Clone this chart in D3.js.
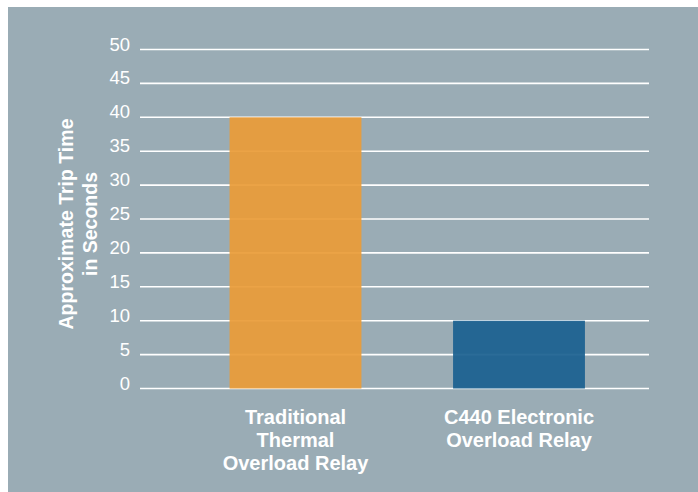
<!DOCTYPE html>
<html>
<head>
<meta charset="utf-8">
<script src="https://d3js.org/d3.v7.min.js"></script>
<style>
    body { margin: 0; background: #ffffff; }
    text { font-family: "Liberation Sans", Arial, sans-serif; fill: #ffffff; }
</style>
</head>
<body>
<script>
// relay trip time bar chart
var categories = ["Traditional Thermal Overload Relay",
                  "C440 Electronic Overload Relay"];
var labelLines = [["Traditional", "Thermal", "Overload Relay"],
                  ["C440 Electronic", "Overload Relay"]];
var tripSeconds = [40, 10];
var yTicks = [0, 5, 10, 15, 20, 25, 30, 35, 40, 45, 50];
var barColors = ["#e99c38", "#1b6190"];

var svg = d3.select("body")
    .append("svg")
    .attr("width", 698)
    .attr("height", 492);

// grey panel
svg.append("rect")
    .attr("x", 8)
    .attr("y", 7)
    .attr("width", 690)
    .attr("height", 485)
    .attr("fill", "#9aacb5");

var y = d3.scaleLinear()
    .domain([0, 50])
    .range([388.5, 49.5]);

var x = d3.scaleBand()
    .domain(categories)
    .range([183.75, 630.75])
    .paddingInner(0.41)
    .paddingOuter(0.205);

// gridlines first, bars are a little see-through on top
svg.selectAll(".grid")
    .data(yTicks)
    .enter()
    .append("line")
    .attr("x1", 140)
    .attr("x2", 649)
    .attr("y1", function(d) { return y(d); })
    .attr("y2", function(d) { return y(d); })
    .attr("stroke", "#ffffff")
    .attr("stroke-width", 1.6);

svg.selectAll(".bar")
    .data(tripSeconds)
    .enter()
    .append("rect")
    .attr("x", function(d, i) { return x(categories[i]); })
    .attr("y", function(d) { return y(d); })
    .attr("width", x.bandwidth())
    .attr("height", function(d) { return y(0) - y(d); })
    .attr("fill", function(d, i) { return barColors[i]; })
    .attr("fill-opacity", 0.93);

// tick labels
svg.selectAll(".tick")
    .data(yTicks)
    .enter()
    .append("text")
    .attr("x", 130)
    .attr("y", function(d) { return y(d) + 1; })
    .attr("text-anchor", "end")
    .style("font-size", "18.5px")
    .text(function(d) { return d; });

// axis title, two lines rotated
var title = svg.append("text")
    .attr("transform", "translate(73,224) rotate(-90)")
    .attr("text-anchor", "middle")
    .style("font-size", "19.5px")
    .style("font-weight", "bold");
title.append("tspan")
    .attr("x", 0)
    .attr("y", 0)
    .text("Approximate Trip Time");
title.append("tspan")
    .attr("x", 0)
    .attr("y", 23.5)
    .text("in Seconds");

// category labels under bars
categories.forEach(function(c, i) {
    var t = svg.append("text")
        .attr("text-anchor", "middle")
        .style("font-size", "20px")
        .style("font-weight", "bold");
    labelLines[i].forEach(function(line, j) {
        t.append("tspan")
            .attr("x", x(c) + x.bandwidth() / 2)
            .attr("y", 424 + j * 23)
            .text(line);
    });
});
</script>
</body>
</html>
